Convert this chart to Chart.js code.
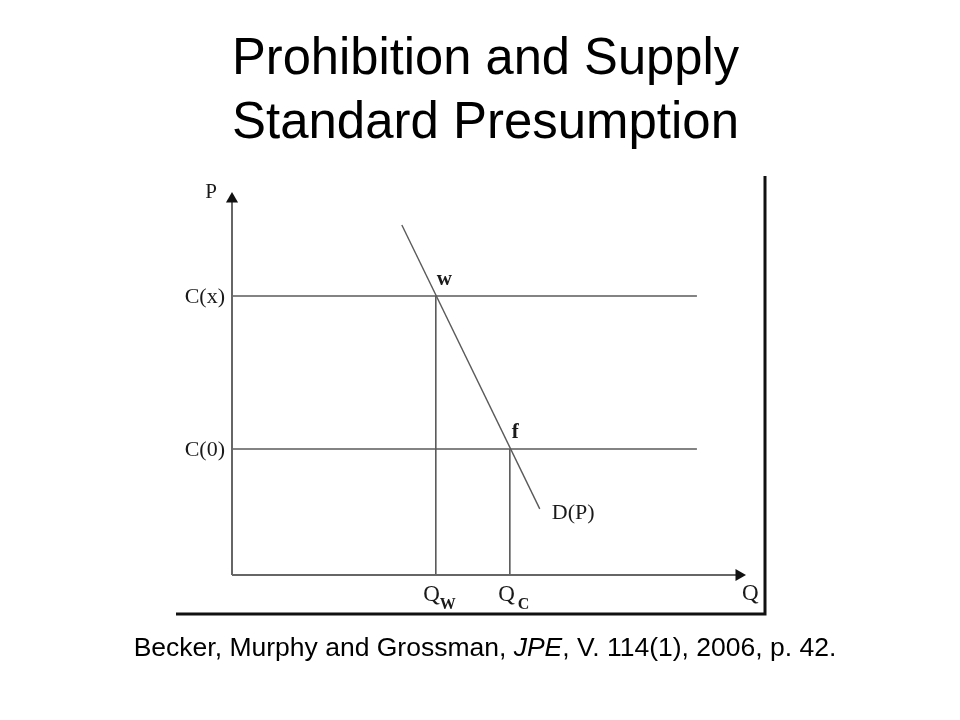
<!DOCTYPE html>
<html>
<head>
<meta charset="utf-8">
<script src="https://cdn.jsdelivr.net/npm/chart.js@4/dist/chart.umd.min.js"></script>
<style>
  html, body { margin: 0; padding: 0; background: #ffffff; }
  #wrap { width: 960px; height: 720px; position: relative; }
</style>
</head>
<body>
<div id="wrap"><canvas id="c" width="960" height="720"></canvas></div>
<script>
// ---- data (abstract units, axes run 0..10) ----
const titleLines = ["Prohibition and Supply", "Standard Presumption"];
const captionParts = [
  { text: "Becker, Murphy and Grossman, ", italic: false },
  { text: "JPE", italic: true },
  { text: ", V. 114(1), 2006, p. 42.", italic: false }
];
const axisMax = 10;
const priceLevels = [7.42, 3.35];          // C(x), C(0)
const priceLabels = ["C(x)", "C(0)"];
const quantities = [4.02, 5.48];            // Q_w, Q_c
const quantitySubs = ["W", "C"];
const pointLabels = ["w", "f"];
const hLineEnd = 9.17;
const demandX = [3.35, 6.07];
const demandP = [9.31, 1.76];
const demandLabel = "D(P)";
const axisLabelP = "P";
const axisLabelQ = "Q";

const lineColor = "#5a5a5a";
const axisColor = "#666666";

function seg(x0, y0, x1, y1) { return [{ x: x0, y: y0 }, { x: x1, y: y1 }]; }

const datasets = [];
// axes with arrow heads
datasets.push({
  data: seg(0, 0, axisMax, 0), borderColor: axisColor, borderWidth: 2,
  pointRadius: [0, 7], pointStyle: "triangle", rotation: 90,
  pointBackgroundColor: "#111", pointBorderColor: "#111", pointBorderWidth: 0
});
datasets.push({
  data: seg(0, 0, 0, axisMax), borderColor: axisColor, borderWidth: 2,
  pointRadius: [0, 7], pointStyle: "triangle", rotation: 0,
  pointBackgroundColor: "#111", pointBorderColor: "#111", pointBorderWidth: 0
});
// horizontal cost lines
priceLevels.forEach(p => datasets.push({
  data: seg(0, p, hLineEnd, p), borderColor: lineColor, borderWidth: 1.6, pointRadius: 0
}));
// vertical quantity lines
quantities.forEach((q, i) => datasets.push({
  data: seg(q, 0, q, priceLevels[i]), borderColor: lineColor, borderWidth: 1.6, pointRadius: 0
}));
// demand curve
datasets.push({
  data: seg(demandX[0], demandP[0], demandX[1], demandP[1]),
  borderColor: lineColor, borderWidth: 1.4, pointRadius: 0
});
datasets.forEach(d => { d.showLine = true; d.clip = false; d.fill = false; });

const serif = "'Liberation Serif', 'DejaVu Serif', serif";
const sans = "'Liberation Sans', Arial, sans-serif";

const decor = {
  id: "decor",
  afterDatasetsDraw(chart) {
    const ctx = chart.ctx;
    const a = chart.chartArea;
    const xs = chart.scales.x, ys = chart.scales.y;
    ctx.save();
    // picture frame (right and bottom edge)
    ctx.strokeStyle = "#111";
    ctx.lineWidth = 3;
    ctx.beginPath();
    ctx.moveTo(a.left - 56, a.bottom + 39);
    ctx.lineTo(a.right + 26, a.bottom + 39);
    ctx.lineTo(a.right + 26, a.top - 23);
    ctx.stroke();

    ctx.fillStyle = "#1a1a1a";
    ctx.textBaseline = "alphabetic";
    // axis labels
    ctx.font = "21px " + serif;
    ctx.textAlign = "center";
    ctx.fillText(axisLabelP, a.left - 21, a.top - 1);
    ctx.font = "23px " + serif;
    ctx.textAlign = "left";
    ctx.fillText(axisLabelQ, a.right + 3, a.bottom + 25);
    // price labels
    ctx.font = "22px " + serif;
    ctx.textAlign = "right";
    ctx.textBaseline = "middle";
    priceLevels.forEach((p, i) => {
      ctx.fillText(priceLabels[i], a.left - 7, ys.getPixelForValue(p) + 1);
    });
    // quantity labels with subscripts
    ctx.textBaseline = "alphabetic";
    quantities.forEach((q, i) => {
      const px = xs.getPixelForValue(q);
      ctx.font = "23px " + serif;
      ctx.textAlign = "right";
      const qRight = px + (i === 0 ? 4 : 5);
      ctx.fillText("Q", qRight, a.bottom + 26);
      ctx.font = "bold 16px " + serif;
      ctx.textAlign = "left";
      ctx.fillText(quantitySubs[i], qRight + (i === 0 ? 0 : 3), a.bottom + 34);
    });
    // intersection labels
    ctx.font = "bold 21px " + serif;
    ctx.textAlign = "left";
    ctx.fillText(pointLabels[0], xs.getPixelForValue(quantities[0]) + 1, ys.getPixelForValue(priceLevels[0]) - 11);
    ctx.fillText(pointLabels[1], xs.getPixelForValue(quantities[1]) + 2, ys.getPixelForValue(priceLevels[1]) - 11);
    // demand label
    ctx.font = "22px " + serif;
    ctx.textBaseline = "middle";
    ctx.fillText(demandLabel, xs.getPixelForValue(demandX[1]) + 12, ys.getPixelForValue(demandP[1]) + 4);

    // caption with italic part
    ctx.textBaseline = "alphabetic";
    ctx.textAlign = "left";
    const size = 26.5;
    let total = 0;
    const widths = captionParts.map(p => {
      ctx.font = (p.italic ? "italic " : "") + size + "px " + sans;
      const w = ctx.measureText(p.text).width;
      total += w;
      return w;
    });
    let x = 485 - total / 2;
    ctx.fillStyle = "#000";
    captionParts.forEach((p, i) => {
      ctx.font = (p.italic ? "italic " : "") + size + "px " + sans;
      ctx.fillText(p.text, x, 656);
      x += widths[i];
    });
    ctx.restore();
  }
};

new Chart(document.getElementById("c"), {
  type: "scatter",
  data: { datasets },
  options: {
    responsive: false,
    animation: false,
    events: [],
    layout: { autoPadding: false, padding: { left: 232, right: 221, top: 0, bottom: 145 } },
    scales: {
      x: { type: "linear", min: 0, max: axisMax, display: false },
      y: { type: "linear", min: 0, max: axisMax, display: false }
    },
    plugins: {
      legend: { display: false },
      tooltip: { enabled: false },
      title: {
        display: true,
        text: titleLines,
        color: "#000",
        font: { family: sans, size: 52, weight: "normal", lineHeight: 1.2308 },
        padding: { top: 27.8, bottom: 43.2 }
      }
    }
  },
  plugins: [decor]
});
</script>
</body>
</html>
